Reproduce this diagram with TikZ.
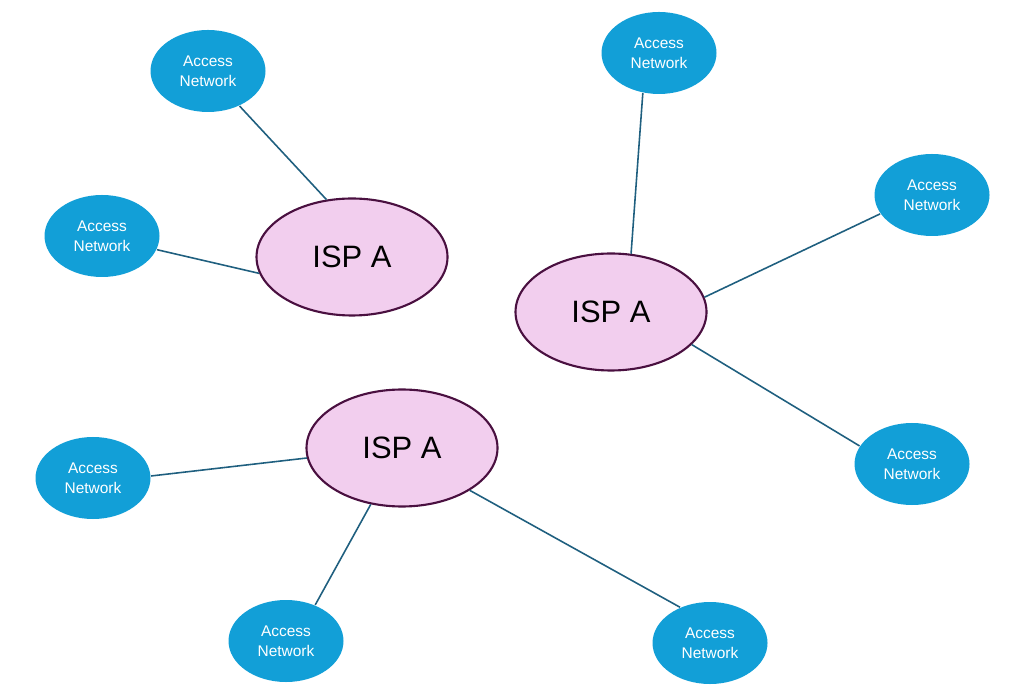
\documentclass[tikz,border=0pt]{standalone}
\usepackage{fontspec}
\setmainfont{Liberation Sans}
\usetikzlibrary{shapes.geometric}

\definecolor{accblue}{HTML}{129FD7}
\definecolor{isppink}{HTML}{F2CEEE}
\definecolor{ispedge}{HTML}{4A1040}
\definecolor{linkteal}{HTML}{1F5F7F}

\begin{document}
\begin{tikzpicture}[access/.style={ellipse, fill=accblue, text=white, minimum width=1.15cm, minimum height=0.82cm, inner sep=0pt, align=center, font=\fontsize{4.4}{5.7}\selectfont},
  isp/.style={ellipse, draw=ispedge, line width=0.6pt, fill=isppink, minimum width=1.91cm, minimum height=1.17cm, inner sep=0pt, font=\fontsize{8.8}{10}\selectfont},
  link/.style={draw=linkteal, line width=0.45pt}]
			\useasboundingbox (0,0) rectangle (10.17,6.93);
			\node[isp] (ispa) at (3.52,4.36) {ISP A};
			\node[isp] (ispb) at (6.11,3.81) {ISP A};
			\node[isp] (ispc) at (4.02,2.45) {ISP A};
			
			\node[access] (acc1) at (2.08,6.22) {Access\\Network};
			\node[access] (acc2) at (1.02,4.57) {Access\\Network};
			\node[access] (acc3) at (6.59,6.40) {Access\\Network};
			\node[access] (acc4) at (9.32,4.98) {Access\\Network};
			\node[access] (acc5) at (9.12,2.29) {Access\\Network};
			\node[access] (acc6) at (0.93,2.15) {Access\\Network};
			\node[access] (acc7) at (2.86,0.52) {Access\\Network};
			\node[access] (acc8) at (7.10,0.50) {Access\\Network};
			
			\draw[link] (acc1.-48) -- (ispa.114);
			\draw[link] (acc2.-14) -- (ispa.190);
			\draw[link] (acc3.248) -- (ispb.71);
			\draw[link] (acc4.200) -- (ispb.9);
			\draw[link] (acc5.161) -- (ispb.-22);
			\draw[link] (acc6.2) -- (ispc.186);
			\draw[link] (acc7.51) -- (ispc.241);
			\draw[link] (acc8.130) -- (ispc.-32);
		\end{tikzpicture}
\end{document}
